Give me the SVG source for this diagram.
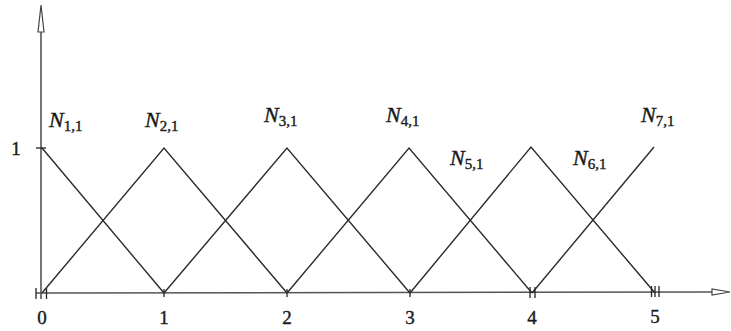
<svg xmlns="http://www.w3.org/2000/svg" width="731" height="331" viewBox="0 0 731 331">
<style>
.ax{stroke:#555;stroke-width:1.6;fill:none}
.tk{stroke:#222;stroke-width:1.3;fill:none}
.ln{stroke:#2a2a2a;stroke-width:1.4;fill:none}
.head{stroke:#444;stroke-width:1.2;fill:#fff}
.lbl{font-family:"Liberation Serif","Times New Roman",serif;font-size:19px;fill:#1a1a1a;stroke:#1a1a1a;stroke-width:0.4;text-anchor:middle}
.nm{font-family:"Liberation Serif","Times New Roman",serif;font-style:italic;font-size:22px;fill:#1a1a1a;stroke:#1a1a1a;stroke-width:0.4}
.sub{font-style:normal;font-size:15px}
</style>
<g id="axes">
<line class="ax" x1="41" y1="299" x2="41" y2="30"/>
<path class="head" d="M41,5 L44,32 L38,32 Z"/>
<line class="ax" x1="36" y1="293" x2="713" y2="292"/>
<path class="head" d="M730,292 L712,289 L712,295 Z"/>
<line class="tk" x1="36" y1="148" x2="46" y2="148"/>
<line class="tk" x1="36" y1="288" x2="36" y2="299"/>
<line class="tk" x1="46.5" y1="288" x2="46.5" y2="299"/>
<line class="tk" x1="164" y1="289" x2="164" y2="297"/>
<line class="tk" x1="287" y1="289" x2="287" y2="297"/>
<line class="tk" x1="410" y1="289" x2="410" y2="297"/>
<line class="tk" x1="530" y1="287" x2="530" y2="298"/>
<line class="tk" x1="535" y1="287" x2="535" y2="298"/>
<line class="tk" x1="651.5" y1="286" x2="651.5" y2="297"/>
<line class="tk" x1="655" y1="286" x2="655" y2="297"/>
<line class="tk" x1="659" y1="286" x2="659" y2="297"/>
</g>
<g id="axis-labels">
<text class="lbl" x="42" y="324">0</text>
<text class="lbl" x="164" y="324">1</text>
<text class="lbl" x="287" y="324">2</text>
<text class="lbl" x="410" y="324">3</text>
<text class="lbl" x="532" y="324">4</text>
<text class="lbl" x="655" y="323">5</text>
<text class="lbl" x="16" y="155">1</text>
</g>
<g id="connectors">
<polyline class="ln" points="42,148 164,293"/>
<polyline class="ln" points="42,293 164,148 287,293"/>
<polyline class="ln" points="164,293 287,148 410,293"/>
<polyline class="ln" points="287,293 409,148 532,293"/>
<polyline class="ln" points="410,293 531,147 655,293"/>
<polyline class="ln" points="532,293 654,147"/>
</g>
<g id="N11"><text class="nm" x="49" y="127">N<tspan class="sub" dy="4">1,1</tspan></text></g>
<g id="N21"><text class="nm" x="145" y="127">N<tspan class="sub" dy="4">2,1</tspan></text></g>
<g id="N31"><text class="nm" x="264" y="122">N<tspan class="sub" dy="4">3,1</tspan></text></g>
<g id="N41"><text class="nm" x="386" y="122">N<tspan class="sub" dy="4">4,1</tspan></text></g>
<g id="N51"><text class="nm" x="450" y="165">N<tspan class="sub" dy="4">5,1</tspan></text></g>
<g id="N61"><text class="nm" x="573" y="165">N<tspan class="sub" dy="4">6,1</tspan></text></g>
<g id="N71"><text class="nm" x="641" y="122">N<tspan class="sub" dy="4">7,1</tspan></text></g>
</svg>
